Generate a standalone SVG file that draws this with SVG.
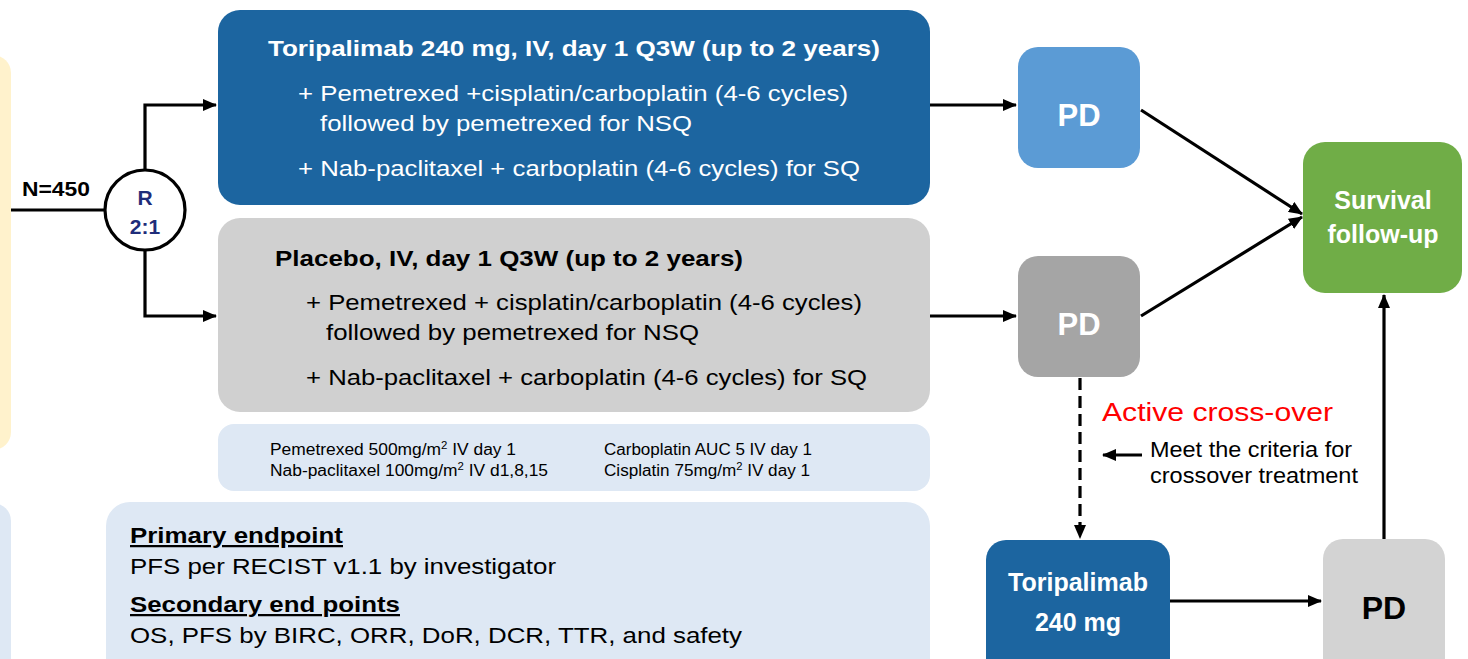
<svg xmlns="http://www.w3.org/2000/svg" width="1468" height="659" viewBox="0 0 1468 659">
<defs>
<style>
.t{font-family:"Liberation Sans",Arial,sans-serif;}
.b{font-weight:bold;}
.w{fill:#ffffff;}
.k{fill:#000000;}
.ln{stroke:#000;stroke-width:3.2;fill:none;}
</style>
<marker id="ah" viewBox="0 0 14 12" refX="13" refY="6" markerWidth="14" markerHeight="12" markerUnits="userSpaceOnUse" orient="auto">
<path d="M0,0 L14,6 L0,12 Z" fill="#000"/>
</marker>
</defs>
<rect width="1468" height="659" fill="#ffffff"/>

<g id="left-yellow"><rect x="-30" y="55" width="41" height="395" rx="18" fill="#FFF2CC"/></g>
<g id="left-blue"><rect x="-30" y="503" width="41" height="180" rx="18" fill="#DEE8F4"/></g>

<g id="arm-toripalimab">
<rect x="218" y="10" width="712" height="195" rx="22" fill="#1C65A0"/>
<text class="t b w" x="268" y="56" font-size="22" textLength="612" lengthAdjust="spacingAndGlyphs">Toripalimab 240 mg, IV, day 1 Q3W (up to 2 years)</text>
<text class="t w" x="298" y="101" font-size="22.5" textLength="550" lengthAdjust="spacingAndGlyphs">+ Pemetrexed +cisplatin/carboplatin (4-6 cycles)</text>
<text class="t w" x="320" y="131" font-size="22.5" textLength="372" lengthAdjust="spacingAndGlyphs">followed by pemetrexed for NSQ</text>
<text class="t w" x="298" y="176" font-size="22.5" textLength="562" lengthAdjust="spacingAndGlyphs">+ Nab-paclitaxel + carboplatin (4-6 cycles) for SQ</text>
</g>

<g id="arm-placebo">
<rect x="218" y="218" width="712" height="194" rx="22" fill="#D0D0D0"/>
<text class="t b k" x="275" y="266" font-size="22" textLength="468" lengthAdjust="spacingAndGlyphs">Placebo, IV, day 1 Q3W (up to 2 years)</text>
<text class="t k" x="306" y="310" font-size="22.5" textLength="556" lengthAdjust="spacingAndGlyphs">+ Pemetrexed + cisplatin/carboplatin (4-6 cycles)</text>
<text class="t k" x="326" y="340" font-size="22.5" textLength="373" lengthAdjust="spacingAndGlyphs">followed by pemetrexed for NSQ</text>
<text class="t k" x="306" y="385" font-size="22.5" textLength="561" lengthAdjust="spacingAndGlyphs">+ Nab-paclitaxel + carboplatin (4-6 cycles) for SQ</text>
</g>

<g id="doses">
<rect x="218" y="424" width="712" height="67" rx="16" fill="#DEE8F4"/>
<text class="t k" x="270" y="455" font-size="16" textLength="246" lengthAdjust="spacingAndGlyphs">Pemetrexed 500mg/m<tspan font-size="10.5" dy="-6">2</tspan><tspan dy="6"> IV day 1</tspan></text>
<text class="t k" x="270" y="476" font-size="16" textLength="278" lengthAdjust="spacingAndGlyphs">Nab-paclitaxel 100mg/m<tspan font-size="10.5" dy="-6">2</tspan><tspan dy="6"> IV d1,8,15</tspan></text>
<text class="t k" x="604" y="455" font-size="16" textLength="208" lengthAdjust="spacingAndGlyphs">Carboplatin AUC 5 IV day 1</text>
<text class="t k" x="604" y="476" font-size="16" textLength="206" lengthAdjust="spacingAndGlyphs">Cisplatin 75mg/m<tspan font-size="10.5" dy="-6">2</tspan><tspan dy="6"> IV day 1</tspan></text>
</g>

<g id="endpoints">
<rect x="106" y="502" width="824" height="180" rx="24" fill="#DEE8F4"/>
<text class="t b k" x="130" y="543" font-size="22.5" text-decoration="underline" textLength="213" lengthAdjust="spacingAndGlyphs">Primary endpoint</text>
<text class="t k" x="130" y="574" font-size="22.5" textLength="426" lengthAdjust="spacingAndGlyphs">PFS per RECIST v1.1 by investigator</text>
<text class="t b k" x="130" y="612" font-size="22.5" text-decoration="underline" textLength="270" lengthAdjust="spacingAndGlyphs">Secondary end points</text>
<text class="t k" x="130" y="643" font-size="22.5" textLength="612" lengthAdjust="spacingAndGlyphs">OS, PFS by BIRC, ORR, DoR, DCR, TTR, and safety</text>
</g>

<g id="randomization">
<circle cx="145" cy="210" r="40" fill="#ffffff" stroke="#000" stroke-width="3.2"/>
<text class="t b" x="145" y="205" font-size="21" fill="#1F2D7A" text-anchor="middle">R</text>
<text class="t b" x="145" y="234" font-size="21" fill="#1F2D7A" text-anchor="middle">2:1</text>
</g>
<text class="t b k" x="22" y="196" font-size="21" textLength="68" lengthAdjust="spacingAndGlyphs">N=450</text>

<g id="pd1"><rect x="1018" y="47" width="122" height="121" rx="20" fill="#5B9BD5"/>
<text class="t b w" x="1079" y="126" font-size="31" text-anchor="middle">PD</text></g>
<g id="pd2"><rect x="1018" y="256" width="122" height="121" rx="20" fill="#A5A5A5"/>
<text class="t b w" x="1079" y="335" font-size="31" text-anchor="middle">PD</text></g>
<g id="survival"><rect x="1303" y="142" width="159" height="151" rx="22" fill="#70AD47"/>
<text class="t b w" x="1383" y="209" font-size="25" text-anchor="middle">Survival</text>
<text class="t b w" x="1383" y="243" font-size="25" text-anchor="middle">follow-up</text></g>
<g id="toripalimab-crossover"><rect x="986" y="540" width="184" height="140" rx="20" fill="#1C65A0"/>
<text class="t b w" x="1078" y="591" font-size="25" text-anchor="middle">Toripalimab</text>
<text class="t b w" x="1078" y="631" font-size="25" text-anchor="middle">240 mg</text></g>
<g id="pd3"><rect x="1323" y="539" width="122" height="140" rx="20" fill="#D3D3D3"/>
<text class="t b k" x="1384" y="619" font-size="32" text-anchor="middle">PD</text></g>

<g id="labels">
<text class="t" x="1102" y="421" font-size="26" fill="#FF0000" textLength="231" lengthAdjust="spacingAndGlyphs">Active cross-over</text>
<text class="t k" x="1150" y="457" font-size="22.5" textLength="202" lengthAdjust="spacingAndGlyphs">Meet the criteria for</text>
<text class="t k" x="1150" y="483" font-size="22.5" textLength="208" lengthAdjust="spacingAndGlyphs">crossover treatment</text>
</g>

<g id="connectors">
<line class="ln" x1="11" y1="210" x2="105" y2="210"/>
<polyline class="ln" points="145,170 145,105 216,105" marker-end="url(#ah)"/>
<polyline class="ln" points="145,250 145,316 216,316" marker-end="url(#ah)"/>
<line class="ln" x1="930" y1="105" x2="1016" y2="105" marker-end="url(#ah)"/>
<line class="ln" x1="930" y1="316" x2="1016" y2="316" marker-end="url(#ah)"/>
<line class="ln" x1="1141" y1="110" x2="1302" y2="214" marker-end="url(#ah)"/>
<line class="ln" x1="1141" y1="316" x2="1302" y2="217" marker-end="url(#ah)"/>
<line class="ln" x1="1080" y1="378" x2="1080" y2="538" stroke-dasharray="12,6" marker-end="url(#ah)"/>
<line class="ln" x1="1170" y1="601" x2="1321" y2="601" marker-end="url(#ah)"/>
<line class="ln" x1="1384" y1="539" x2="1384" y2="295" marker-end="url(#ah)"/>
<line class="ln" x1="1142" y1="455" x2="1103" y2="455" marker-end="url(#ah)"/>
</g>
</svg>
